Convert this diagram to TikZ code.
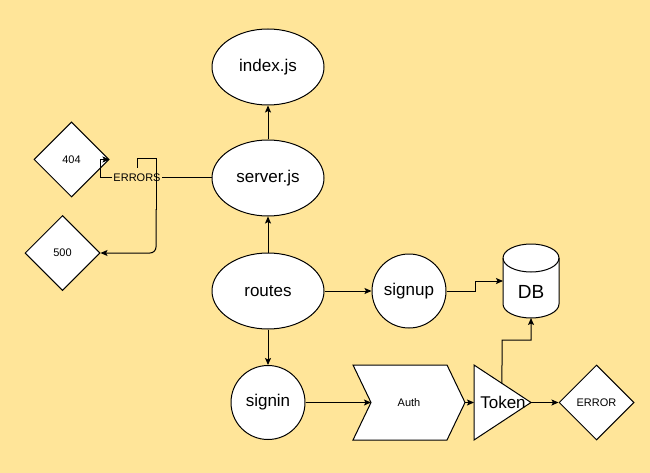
\documentclass[tikz,border=0pt]{standalone}
\usepackage{fontspec}
\setmainfont{Liberation Sans}
\usetikzlibrary{shapes.geometric,arrows.meta,calc}
\definecolor{bgyellow}{RGB}{255,229,153}
\tikzset{
  big/.style={font=\fontsize{17}{20}\selectfont},
  small/.style={font=\fontsize{11}{13}\selectfont},
  shp/.style={draw=black, fill=white, line width=1pt, inner sep=0pt},
  ell/.style={shp, ellipse, minimum width=112pt, minimum height=76pt, big},
  circ/.style={shp, circle, minimum size=74pt, big},
  dia/.style={shp, diamond, minimum width=75pt, minimum height=75pt, small},
  conn/.style={draw=black, line width=1pt, -{Stealth[length=7pt,width=6pt,inset=1.5pt]}},
  line/.style={draw=black, line width=1pt},
  anchorbox/.style={inner sep=0pt, outer sep=0pt}
}
\begin{document}
\begin{tikzpicture}[x=1pt,y=1pt]
\useasboundingbox (0,0) rectangle (650,-473);
\fill[bgyellow] (0,0) rectangle (650,-473);

% nodes
\node[ell] (index) at (268,-67) {index.js};
\node[ell] (server) at (268,-178) {server.js};
\node[ell] (routes) at (268,-291) {routes};
\node[circ] (signin) at (268,-402.5) {signin};
\node[circ] (signup) at (409,-291) {signup};
\node[dia] (n404) at (71.5,-159.5) {404};
\node[dia] (n500) at (62.5,-253) {500};
\node[dia] (error) at (596.5,-402.5) {ERROR};

% DB cylinder
\node[anchorbox, minimum width=56pt, minimum height=74pt] (db) at (531,-281) {};
\draw[shp] (503,-258) -- (503,-304) arc[start angle=180, end angle=360, x radius=28, y radius=14]
  -- (559,-258) arc[start angle=0, end angle=180, x radius=28, y radius=14] -- cycle;
\draw[line] (503,-258) arc[start angle=180, end angle=360, x radius=28, y radius=14];
\node[font=\fontsize{19}{22}\selectfont] (dbtext) at (531,-292) {DB};

% Auth chevron
\draw[shp] (353,-365) -- (447,-365) -- (465,-402.5) -- (447,-440) -- (353,-440) -- (371,-402.5) -- cycle;
\node[small] (auth) at (409,-402.5) {Auth};
\coordinate (authin) at (371,-402.5);
\coordinate (authout) at (465,-402.5);

% Token triangle
\draw[shp] (474,-365) -- (531,-402.5) -- (474,-440) -- cycle;
\node[big] (token) at (503,-402.5) {Token};
\coordinate (tokenin) at (474,-402.5);
\coordinate (tokenout) at (531,-402.5);
\coordinate (tokentop) at ($(474,-365)!0.491!(531,-402.5)$);

% ERRORS label
\node[small, inner sep=1pt] (errors) at (137,-178) {ERRORS};

% connectors
\draw[conn] (server.north) -- (index.south);
\draw[conn] (routes.north) -- (server.south);
\draw[conn] (routes.south) -- (signin.north);
\draw[conn] (routes.east) -- (signup.west);
\draw[conn] (signup.east) -- ++(29,0) |- (db.west);
\draw[conn] (tokentop) -- (502,-340) -| (db.south);
\draw[conn] (signin.east) -- (authin);
\draw[conn] (authout) -- (tokenin);
\draw[conn] (tokenout) -- (error.west);

\draw[line] (server.west) -- (errors.east);
\draw[conn] (errors.west) -- (100,-178) |- (n404.east);
\draw[line] (137,-168) -- (137,-159) -- (156,-159) -- (156,-210);
\draw[conn, rounded corners=6pt] (156,-209) -- (156,-253) -- (n500.east);
\end{tikzpicture}
\end{document}
